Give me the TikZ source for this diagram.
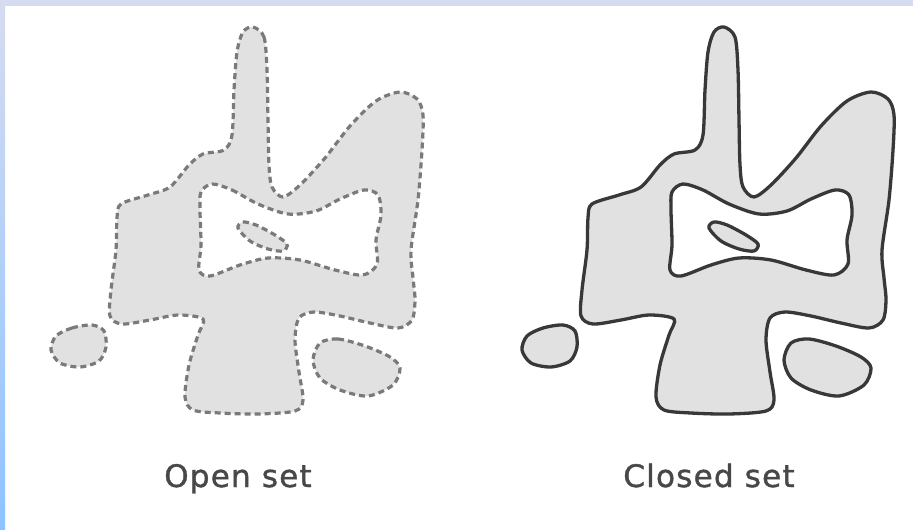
\documentclass[tikz,border=0pt]{standalone}
\usepackage{fontspec}
\usepackage{tikz}
\newfontfamily\labelfont[LetterSpace=4,FakeBold=1.2]{DejaVu Sans}
\definecolor{regiongray}{HTML}{E1E1E1}
\definecolor{dashgray}{HTML}{7A7A7A}
\definecolor{edgegray}{HTML}{383838}
\definecolor{textgray}{HTML}{484848}
\definecolor{framelav}{HTML}{D6DCF0}
\definecolor{frameblue}{HTML}{8EC3FF}

% the same set, drawn with the boundary style given as #1
\newcommand{\setregions}[1]{%
  \path[regionfill,#1,even odd rule]
    plot[smooth cycle] coordinates {(253,27) (264,37) (267,70) (268,120) (269,165) (272,187) (283,197)
      (300,185) (325,158) (350,126) (376,101) (400,92) (417,99) (423,115) (422,150) (418,200) (411,250)
      (413,278) (415,300) (412,320) (398,328) (370,323) (340,316) (314,312) (299,318) (295,340) (299,372)
      (303,400) (295,411) (258,414) (220,413) (193,410) (185,397) (189,365) (198,335) (203,319) (178,315)
      (150,320) (122,324) (110,316) (111,290) (116,250) (117,218) (121,204) (148,195) (170,187) (189,165)
      (203,154) (224,150) (232,135) (234,90) (237,52) (243,32)}
    plot[smooth cycle] coordinates {(212,184) (232,190) (258,204) (288,214) (316,211) (340,199) (364,190)
      (378,195) (381,215) (376,240) (377,264) (363,275) (335,270) (300,260) (268,258) (240,265) (210,276)
      (199,270) (201,245) (200,210) (201,192)};
  % island inside the hole
  \path[regionfill,#1] plot[smooth cycle] coordinates {(238,228) (243,222) (256,225) (275,235) (287,244)
    (283,251) (268,249) (250,241)};
  % left blob
  \path[regionfill,#1] plot[smooth cycle] coordinates {(56,336) (72,328) (92,325) (104,331) (106,347)
    (99,361) (80,367) (60,363) (51,350)};
  % right blob
  \path[regionfill,#1] plot[smooth cycle] coordinates {(320,343) (338,339) (365,346) (390,357) (400,368)
    (393,385) (368,396) (340,390) (320,378) (313,360)};
}

\begin{document}
\begin{tikzpicture}[x=1pt,y=-1pt,
  regionfill/.style={fill=regiongray},
  openline/.style={draw=dashgray,line width=3.2pt,dash pattern=on 6pt off 4pt},
  closedline/.style={draw=edgegray,line width=3.3pt},
  setlabel/.style={anchor=base,text=textgray,font=\labelfont\fontsize{31}{36}\selectfont}]
% page and frame
\fill[white] (0,0) rectangle (913,530);
\fill[framelav] (0,0) rectangle (913,6);
\shade[top color=framelav,bottom color=frameblue] (0,0) rectangle (5,530);
% open set
\begin{scope}
  \setregions{openline}
\end{scope}
% closed set
\begin{scope}[xshift=471pt]
  \setregions{closedline}
\end{scope}
\node[setlabel] (openlbl) at (238,487) {Open set};
\node[setlabel] (closedlbl) at (709,487) {Closed set};
\end{tikzpicture}
\end{document}
